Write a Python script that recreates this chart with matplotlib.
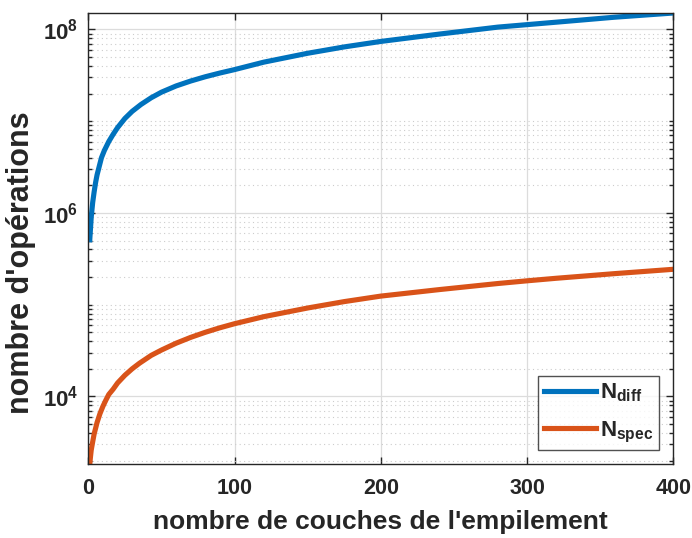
import numpy as np
import matplotlib
matplotlib.use("Agg")
import matplotlib.pyplot as plt
from matplotlib.ticker import FixedLocator, NullFormatter

plt.rcParams['font.family'] = ['Liberation Sans', 'DejaVu Sans']
plt.rcParams['font.weight'] = 'bold'
plt.rcParams['mathtext.fontset'] = 'custom'
plt.rcParams['mathtext.bf'] = 'Liberation Sans:bold'
plt.rcParams['mathtext.rm'] = 'Liberation Sans:bold'

# data
n_diff = [1, 2, 3, 4, 5, 6, 7, 9, 11, 14, 17, 20, 25, 30, 36, 43, 50, 60,
          70, 80, 90, 100, 120, 150, 175, 200, 240, 280, 320, 360, 400]
N_diff = [5.1e5, 9e5, 1.3e6, 1.7e6, 2.15e6, 2.6e6, 3.0e6, 4.0e6, 4.8e6,
          6.0e6, 7.2e6, 8.5e6, 1.07e7, 1.28e7, 1.52e7, 1.8e7, 2.07e7,
          2.42e7, 2.74e7, 3.05e7, 3.35e7, 3.65e7, 4.4e7, 5.5e7, 6.45e7,
          7.4e7, 8.9e7, 1.06e8, 1.2e8, 1.36e8, 1.51e8]

n_spec = [1, 1.5, 2, 3, 4, 5, 6, 8, 10, 12, 14, 17, 20, 25, 30, 35, 43, 50,
          60, 70, 80, 90, 100, 120, 150, 175, 200, 240, 280, 300, 320, 360, 400]
N_spec = [1.82e3, 2.2e3, 2.6e3, 3.2e3, 3.9e3, 4.5e3, 5.2e3, 6.5e3, 7.8e3,
          9.1e3, 1.05e4, 1.2e4, 1.4e4, 1.7e4, 2.0e4, 2.3e4, 2.8e4, 3.2e4,
          3.8e4, 4.4e4, 5.0e4, 5.6e4, 6.2e4, 7.4e4, 9.2e4, 1.08e5, 1.24e5,
          1.46e5, 1.7e5, 1.82e5, 1.94e5, 2.18e5, 2.43e5]

xticks = [0, 100, 200, 300, 400]
yticks = [1e4, 1e6, 1e8]
ytick_labels = [r'$\mathbf{10^{4}}$', r'$\mathbf{10^{6}}$', r'$\mathbf{10^{8}}$']

txt = '#262626'
fig = plt.figure(figsize=(6.92, 5.38), dpi=100)
ax = fig.add_axes([0.1276, 0.137, 0.8454, 0.8388])

ax.plot(n_diff, N_diff, color='#0072BD', lw=3.7, label=r'$\mathbf{N_{diff}}$')
ax.plot(n_spec, N_spec, color='#D95319', lw=3.7, label=r'$\mathbf{N_{spec}}$')

ax.set_yscale('log')
ax.set_xlim(0, 400)
ax.set_ylim(min(N_spec), max(N_diff))

ax.set_xticks(xticks)
ax.set_yticks(yticks)
ax.set_yticklabels(ytick_labels)
minors = [k * 10.0**d for d in range(3, 9) for k in range(1, 10)
          if k * 10.0**d not in yticks]
ax.yaxis.set_minor_locator(FixedLocator(minors))
ax.yaxis.set_minor_formatter(NullFormatter())

ax.grid(True, which='major', color='#dcdcdc', lw=0.9, ls='-')
ax.grid(True, which='minor', axis='y', color='#cccccc', lw=0.8, ls=(0, (1, 3)))
ax.set_axisbelow(True)

ax.tick_params(which='both', direction='in', top=True, right=True,
               colors=txt, width=1.0)
ax.tick_params(axis='x', labelsize=15.5, pad=10)
ax.tick_params(axis='y', labelsize=16, pad=7)
ax.tick_params(which='major', length=5)
ax.tick_params(which='minor', length=3)
for s in ax.spines.values():
    s.set_color(txt)
    s.set_linewidth(1.0)

ax.set_xlabel("nombre de couches de l'empilement", fontsize=19,
              fontweight='bold', color=txt, labelpad=8)
ax.set_ylabel("nombre d'opérations", fontsize=22, fontweight='bold',
              color=txt)
ax.yaxis.set_label_coords(-0.09, 0.446)

leg = ax.legend(loc='lower right', fontsize=16, frameon=True, fancybox=False,
                edgecolor=txt, handlelength=2.35, borderaxespad=0.63,
                labelspacing=0.7, handletextpad=0.2, borderpad=0.25)
leg.get_frame().set_linewidth(1.0)
for t in leg.get_texts():
    t.set_color(txt)

fig.savefig('out.png', dpi=100)
